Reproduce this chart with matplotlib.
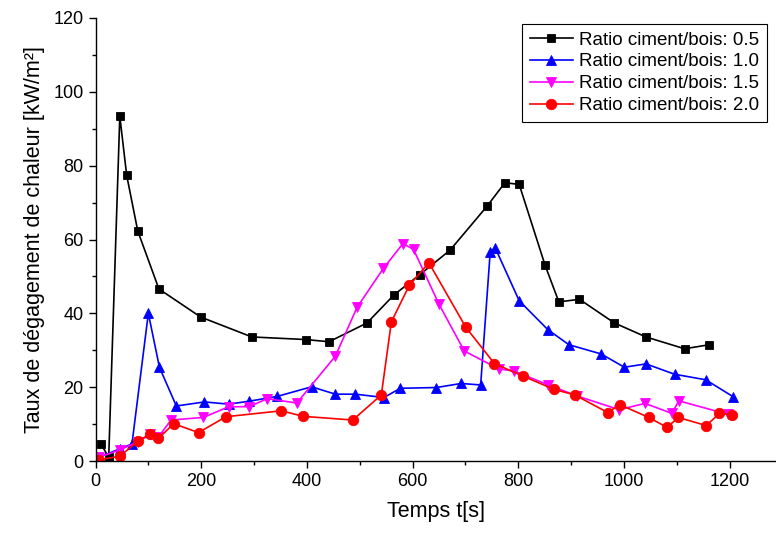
"""
Taux de dégagement de chaleur en fonction du temps pour quatre ratios ciment/bois.
"""
import matplotlib

matplotlib.use("Agg")
import matplotlib.pyplot as plt
from matplotlib.ticker import MultipleLocator

plt.rcParams["font.family"] = ["Liberation Sans", "DejaVu Sans"]

# --- données ---
labels = [
    "Ratio ciment/bois: 0.5",
    "Ratio ciment/bois: 1.0",
    "Ratio ciment/bois: 1.5",
    "Ratio ciment/bois: 2.0",
]

t_05 = [10, 25, 46, 59, 80, 120, 199, 296, 398, 442, 514, 565, 614, 671, 741,
        775, 802, 851, 877, 916, 982, 1042, 1115, 1162]
hrr_05 = [4.7, 1.0, 93.4, 77.4, 62.3, 46.6, 39.0, 33.6, 32.9, 32.3, 37.4, 45.0,
          50.5, 57.1, 69.0, 75.4, 74.9, 53.0, 43.1, 43.8, 37.4, 33.6, 30.4, 31.5]

t_10 = [3, 46, 69, 100, 121, 153, 206, 252, 291, 344, 409, 454, 492, 546, 577,
        645, 692, 729, 747, 757, 802, 856, 896, 957, 1001, 1042, 1096, 1155, 1207]
hrr_10 = [0.8, 3.3, 4.6, 40.0, 25.4, 14.9, 16.0, 15.4, 16.2, 17.5, 20.1, 18.1,
          18.1, 17.2, 19.7, 19.9, 21.0, 20.6, 56.5, 57.6, 43.4, 35.6, 31.5, 29.0,
          25.4, 26.3, 23.5, 22.0, 17.4]

t_15 = [6, 46, 80, 104, 119, 143, 204, 252, 291, 325, 381, 454, 495, 545, 582,
        602, 650, 698, 764, 792, 857, 912, 991, 1040, 1091, 1104, 1198]
hrr_15 = [1.0, 3.0, 5.2, 7.2, 6.5, 11.1, 11.8, 14.7, 14.7, 16.9, 15.7, 28.4,
          41.6, 52.2, 58.9, 57.3, 42.5, 29.8, 24.9, 24.4, 20.6, 17.6, 13.9, 15.6,
          12.9, 16.3, 12.6]

t_20 = [6, 46, 81, 104, 119, 148, 195, 247, 352, 393, 487, 541, 560, 594, 631,
        701, 755, 809, 868, 907, 970, 992, 1047, 1082, 1103, 1156, 1181, 1204]
hrr_20 = [0.3, 1.3, 5.4, 7.4, 6.1, 10.1, 7.7, 12.0, 13.6, 12.1, 11.1, 17.9, 37.7,
          47.6, 53.7, 36.2, 26.4, 23.0, 19.4, 17.9, 13.1, 15.3, 11.8, 9.1, 11.8,
          9.6, 12.9, 12.5]

W, H = 776, 536
fig = plt.figure(figsize=(W / 100, H / 100), dpi=100)
ax = fig.add_axes([95.5 / W, 1 - 461 / H, 1 - 95.5 / W, (461 - 18) / H])

styles = [
    dict(color="black", marker="s", ms=6),
    dict(color="blue", marker="^", ms=7.5),
    dict(color="magenta", marker="v", ms=7.5),
    dict(color="red", marker="o", ms=7.5),
]
series = [(t_05, hrr_05), (t_10, hrr_10), (t_15, hrr_15), (t_20, hrr_20)]
for (t, y), lab, st in zip(series, labels, styles):
    ax.plot(t, y, label=lab, linewidth=1.2, markeredgewidth=0.6,
            markeredgecolor=st["color"], **st)

ax.set_xlim(0, 1288)
ax.set_ylim(0, 120)
ax.xaxis.set_major_locator(MultipleLocator(200))
ax.xaxis.set_minor_locator(MultipleLocator(100))
ax.yaxis.set_major_locator(MultipleLocator(20))
ax.yaxis.set_minor_locator(MultipleLocator(10))
ax.tick_params(which="major", direction="out", length=5, width=1.0, labelsize=13)
ax.tick_params(which="minor", direction="out", length=3, width=1.0)
ax.spines["top"].set_visible(False)
ax.spines["right"].set_visible(False)
for s in ("left", "bottom"):
    ax.spines[s].set_linewidth(1.0)

ax.set_xlabel("Temps t[s]", fontsize=15.5, labelpad=8)
ax.set_ylabel("Taux de dégagement de chaleur [kW/m²]", fontsize=15.5, labelpad=6)

leg = ax.legend(loc="upper right", bbox_to_anchor=(767 / W, 1 - 24 / H),
                bbox_transform=fig.transFigure, borderaxespad=0, fontsize=13.5,
                handlelength=2.3, handletextpad=0.35, labelspacing=0.25,
                borderpad=0.4, fancybox=False, framealpha=1)
leg.get_frame().set_edgecolor("black")
leg.get_frame().set_linewidth(0.8)

fig.savefig("out.png", dpi=100)
